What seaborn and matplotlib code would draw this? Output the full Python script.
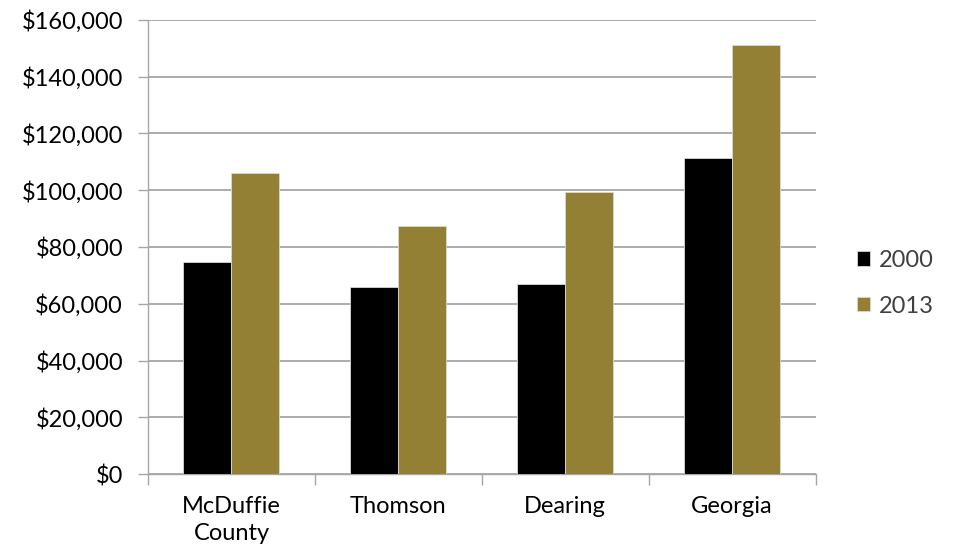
import matplotlib.pyplot as plt
import pandas as pd
import seaborn as sns
from matplotlib.ticker import FuncFormatter, FixedLocator

# Median household income by place
places = ['McDuffie\nCounty', 'Thomson', 'Dearing', 'Georgia']
income_2000 = [74600, 65900, 67100, 111300]
income_2013 = [106000, 87500, 99400, 151200]

df = pd.DataFrame({
    'place': places * 2,
    'year': ['2000'] * 4 + ['2013'] * 4,
    'income': income_2000 + income_2013,
})

sns.set_style('white')
plt.rcParams['font.family'] = ['Lato', 'DejaVu Sans']

fig = plt.figure(figsize=(9.55, 5.5), dpi=100)
ax = fig.add_axes([0.155, 0.138, 0.699, 0.826])

sns.barplot(data=df, x='place', y='income', hue='year',
            palette=['#000000', '#948035'], saturation=1, width=0.575,
            edgecolor='#d8d8d8', linewidth=0.6, ax=ax, zorder=3)

ax.set_ylim(0, 160000)
ax.set_xlim(-0.5, 3.5)
ax.set_yticks(range(0, 160001, 20000))
ax.yaxis.set_major_formatter(FuncFormatter(lambda v, p: f'${v:,.0f}'))
ax.grid(axis='y', color='#a6a6a6', linewidth=1.3, zorder=0)
ax.set_axisbelow(True)

ax.xaxis.set_minor_locator(FixedLocator([-0.5, 0.5, 1.5, 2.5, 3.5]))
ax.tick_params(axis='x', which='major', length=0, pad=16, labelsize=17, labelcolor='black')
ax.tick_params(axis='x', which='minor', length=8, width=1, color='#a6a6a6', bottom=True)
ax.tick_params(axis='y', length=7, width=1, color='#a6a6a6', left=True, pad=11,
               labelsize=17, labelcolor='black')
for lbl in ax.get_xticklabels():
    lbl.set_linespacing(1.35)

for side in ['top', 'right']:
    ax.spines[side].set_visible(False)
for side in ['left', 'bottom']:
    ax.spines[side].set_color('#a6a6a6')
    ax.spines[side].set_linewidth(1)

ax.set_xlabel('')
ax.set_ylabel('')

leg = ax.legend(loc='center left', bbox_to_anchor=(1.03, 0.42), frameon=False,
                fontsize=17, handlelength=0.55, handleheight=0.55, labelspacing=1.05,
                handletextpad=0.4, title=None)
for t in leg.get_texts():
    t.set_color('#404040')

fig.savefig('out.png', dpi=100)
